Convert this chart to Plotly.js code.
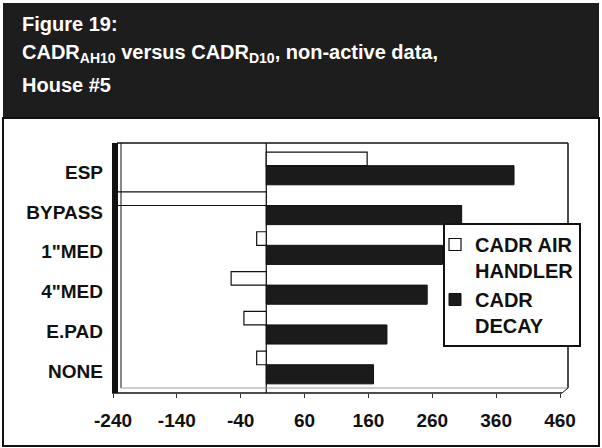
<!DOCTYPE html>
<html>
<head>
<meta charset="utf-8">
<script src="https://cdn.plot.ly/plotly-3.0.1.min.js"></script>
<style>
  html, body { margin: 0; padding: 0; background: #ffffff; }
  #chart { width: 602px; height: 448px; }
</style>
</head>
<body>
<div id="chart"></div>
<script>
// ---- data ----
const categories = ['ESP', 'BYPASS', '1"MED', '4"MED', 'E.PAD', 'NONE'];
const cadrAirHandler = [158, -250, -15, -55, -35, -15];
const cadrDecay = [388, 306, 276, 252, 189, 168];
const seriesNames = ['CADR AIR<br>HANDLER', 'CADR<br>DECAY'];
const xTickVals = [-240, -140, -40, 60, 160, 260, 360, 460];
const xTickText = ['-240', '-140', '-40', '60', '160', '260', '360', '460'];
const titleLines = ['Figure 19:', 'CADR<sub>AH10</sub> versus CADR<sub>D10</sub>, non-active data,', 'House #5'];

// ---- layout geometry (pixels -> paper) ----
const L = 113, R = 560, T = 143, B = 393;
const px = x => (x - L) / (R - L);
const py = y => (B - y) / (B - T);
const FONT = '"Liberation Sans", Arial, sans-serif';

const traces = [
  {
    type: 'bar', orientation: 'h', name: seriesNames[0],
    y: categories, x: cadrAirHandler,
    width: 0.34, offset: -0.5,
    marker: { color: '#ffffff', line: { color: '#111111', width: 1.2 } },
    cliponaxis: true
  },
  {
    type: 'bar', orientation: 'h', name: seriesNames[1],
    y: categories, x: cadrDecay,
    width: 0.48, offset: -0.16,
    marker: { color: '#1b1b1b', line: { color: '#111111', width: 1 } },
    cliponaxis: true
  }
];

const shapes = [
  // title dark box
  { type: 'rect', xref: 'paper', yref: 'paper', x0: px(3), x1: px(599), y0: py(118), y1: py(3),
    fillcolor: '#1d1d1d', line: { width: 0 }, layer: 'below' },
  // panel border
  { type: 'rect', xref: 'paper', yref: 'paper', x0: px(3), x1: px(599), y0: py(446), y1: py(118),
    fillcolor: 'rgba(0,0,0,0)', line: { color: '#111111', width: 2 }, layer: 'below' },
  // left 3D wall
  { type: 'rect', xref: 'paper', yref: 'paper', x0: px(112), x1: px(118), y0: py(393), y1: py(143),
    fillcolor: '#111111', line: { width: 0 } },
  { type: 'line', xref: 'paper', yref: 'paper', x0: px(121), x1: px(121), y0: py(388), y1: py(143),
    line: { color: '#111111', width: 1 } },
  // back wall top & right
  { type: 'line', xref: 'paper', yref: 'paper', x0: px(117), x1: px(568), y0: py(143), y1: py(143),
    line: { color: '#111111', width: 1.5 } },
  { type: 'line', xref: 'paper', yref: 'paper', x0: px(568), x1: px(568), y0: py(143), y1: py(388),
    line: { color: '#111111', width: 1.5 } },
  // floor
  { type: 'line', xref: 'paper', yref: 'paper', x0: px(121), x1: px(568), y0: py(388), y1: py(388),
    line: { color: '#999999', width: 1 } },
  { type: 'line', xref: 'paper', yref: 'paper', x0: px(112), x1: px(562), y0: py(393), y1: py(393),
    line: { color: '#111111', width: 1.5 } },
  { type: 'line', xref: 'paper', yref: 'paper', x0: px(562), x1: px(568), y0: py(393), y1: py(388),
    line: { color: '#111111', width: 1 } },
  // zero line
  { type: 'line', xref: 'x', yref: 'paper', x0: 0, x1: 0, y0: 0, y1: 1,
    line: { color: '#111111', width: 1.2 }, layer: 'below' }
];

const titleY = [24, 54, 85];
const annotations = titleLines.map((t, i) => ({
  xref: 'paper', yref: 'paper', x: px(20), y: py(titleY[i]),
  xanchor: 'left', yanchor: 'middle', showarrow: false, align: 'left',
  text: '<b>' + t + '</b>',
  font: { family: FONT, size: 20, color: '#ffffff' }
}));

const layout = {
  width: 602, height: 448,
  margin: { l: L, r: 602 - R, t: T, b: 448 - B, pad: 0 },
  paper_bgcolor: '#ffffff', plot_bgcolor: 'rgba(0,0,0,0)',
  showlegend: true,
  barmode: 'overlay',
  font: { family: FONT, color: '#111111' },
  xaxis: {
    range: [-240, 460], tickvals: xTickVals, ticktext: xTickText,
    ticks: 'outside', ticklen: 4, tickcolor: '#333333', tickwidth: 1,
    showgrid: false, zeroline: false, showline: false,
    tickfont: { family: FONT, size: 19, color: '#111111', weight: 'bold' },
    ticklabelstandoff: 6, fixedrange: true
  },
  yaxis: {
    type: 'category', categoryorder: 'array', categoryarray: categories,
    range: [5.55, -0.73],
    ticks: '', showgrid: false, zeroline: false, showline: false,
    tickfont: { family: FONT, size: 19, color: '#111111', weight: 'bold' },
    ticklabelstandoff: 9, fixedrange: true
  },
  legend: {
    x: px(443), y: py(223), xanchor: 'left', yanchor: 'top',
    bgcolor: '#ffffff', bordercolor: '#111111', borderwidth: 2,
    font: { family: FONT, size: 20, color: '#111111', weight: 'bold' },
    itemwidth: 30, traceorder: 'normal', tracegroupgap: 2,
    valign: 'top', indentation: -10
  },
  shapes: shapes,
  annotations: annotations
};

Plotly.newPlot('chart', traces, layout, { displayModeBar: false, staticPlot: true });
</script>
</body>
</html>
